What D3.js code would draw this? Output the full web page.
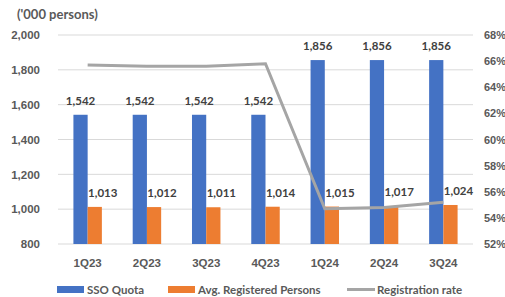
<!DOCTYPE html>
<html>
<head>
<meta charset="utf-8">
<script src="https://cdn.jsdelivr.net/npm/d3@7"></script>
<style>
  body { margin: 0; background: #fff; }
  svg { display: block; font-family: Lato, "Open Sans", sans-serif; font-weight: bold; }
</style>
</head>
<body>
<svg id="chart"></svg>
<script>
const quarters = ["1Q23", "2Q23", "3Q23", "4Q23", "1Q24", "2Q24", "3Q24"];
const ssoQuota = [1542, 1542, 1542, 1542, 1856, 1856, 1856];
const avgRegistered = [1013, 1012, 1011, 1014, 1015, 1017, 1024];
const regRate = [65.7, 65.6, 65.6, 65.8, 54.7, 54.8, 55.2];
const leftTicks = [800, 1000, 1200, 1400, 1600, 1800, 2000];
const rightTicks = [52, 54, 56, 58, 60, 62, 64, 66, 68];

const width = 505, height = 297;
const margin = { top: 35, right: 32, bottom: 53, left: 58 };
const colors = { quota: "#4472C4", reg: "#ED7D31", rate: "#A5A5A5" };

const svg = d3.select("#chart").attr("width", width).attr("height", height);

const x0 = d3.scaleBand()
  .domain(quarters)
  .range([margin.left, width - margin.right])
  .paddingInner(0.52)
  .paddingOuter(0.26);

const x1 = d3.scaleBand()
  .domain(["quota", "reg"])
  .range([0, x0.bandwidth()]);

const yL = d3.scaleLinear().domain([800, 2000]).range([height - margin.bottom, margin.top]);
const yR = d3.scaleLinear().domain([52, 68]).range([height - margin.bottom, margin.top]);

// gridlines
svg.append("g")
  .selectAll("line")
  .data(leftTicks)
  .join("line")
  .attr("x1", margin.left)
  .attr("x2", width - margin.right)
  .attr("y1", (d) => yL(d))
  .attr("y2", (d) => yL(d))
  .attr("stroke", "#d9d9d9")
  .attr("stroke-width", 1);

// left axis
const axL = svg.append("g")
  .attr("transform", `translate(${margin.left - 15},0)`)
  .call(d3.axisLeft(yL).tickValues(leftTicks).tickFormat(d3.format(",")).tickSize(0));
axL.select(".domain").remove();
axL.selectAll("text").attr("fill", "#595959").attr("font-size", "11.5px").attr("font-family", null);

// right axis
const axR = svg.append("g")
  .attr("transform", `translate(${width - margin.right + 8},0)`)
  .call(d3.axisRight(yR).tickValues(rightTicks).tickFormat((d) => d + "%").tickSize(0));
axR.select(".domain").remove();
axR.selectAll("text").attr("fill", "#595959").attr("font-size", "11px").attr("font-family", null);

// x axis labels
const axX = svg.append("g")
  .attr("transform", `translate(0,${height - margin.bottom + 12})`)
  .call(d3.axisBottom(x0).tickSize(0));
axX.select(".domain").remove();
axX.selectAll("text").attr("fill", "#595959").attr("font-size", "11.5px").attr("font-family", null);

// bars
const rows = quarters.map((q, i) => ({ q, quota: ssoQuota[i], reg: avgRegistered[i], rate: regRate[i] }));

const groups = svg.append("g")
  .selectAll("g")
  .data(rows)
  .join("g")
  .attr("transform", (d) => `translate(${x0(d.q)},0)`);

groups.append("rect")
  .attr("x", x1("quota"))
  .attr("width", x1.bandwidth())
  .attr("y", (d) => yL(d.quota))
  .attr("height", (d) => yL(800) - yL(d.quota))
  .attr("fill", colors.quota);

groups.append("rect")
  .attr("x", x1("reg"))
  .attr("width", x1.bandwidth())
  .attr("y", (d) => yL(d.reg))
  .attr("height", (d) => yL(800) - yL(d.reg))
  .attr("fill", colors.reg);

// rate line
const line = d3.line()
  .x((d) => x0(d.q) + x0.bandwidth() / 2)
  .y((d) => yR(d.rate));

svg.append("path")
  .datum(rows)
  .attr("d", line)
  .attr("fill", "none")
  .attr("stroke", colors.rate)
  .attr("stroke-width", 3);

// data labels
const fmt = d3.format(",");
groups.append("text")
  .attr("x", x1("quota") + x1.bandwidth() / 2)
  .attr("y", (d) => yL(d.quota) - 10)
  .attr("text-anchor", "middle")
  .attr("font-size", "11.5px")
  .attr("fill", "#404040")
  .text((d) => fmt(d.quota));

groups.append("text")
  .attr("x", x1("reg") + x1.bandwidth() / 2 + 8)
  .attr("y", (d) => yL(d.reg) - 10)
  .attr("text-anchor", "middle")
  .attr("font-size", "11.5px")
  .attr("fill", "#404040")
  .text((d) => fmt(d.reg));

// title
svg.append("text")
  .attr("x", 17)
  .attr("y", 19)
  .attr("font-size", "13px")
  .attr("fill", "#595959")
  .text("('000 persons)");

// legend
const legend = svg.append("g").attr("transform", `translate(0,${height - 7})`);
const items = [
  { label: "SSO Quota", color: colors.quota, x: 57, type: "rect" },
  { label: "Avg. Registered Persons", color: colors.reg, x: 168, type: "rect" },
  { label: "Registration rate", color: colors.rate, x: 347, type: "line" }
];
items.forEach((it) => {
  if (it.type === "rect") {
    legend.append("rect").attr("x", it.x).attr("y", -4).attr("width", 27).attr("height", 7).attr("fill", it.color);
  } else {
    legend.append("line").attr("x1", it.x).attr("x2", it.x + 28).attr("y1", -0.5).attr("y2", -0.5)
      .attr("stroke", it.color).attr("stroke-width", 3);
  }
  legend.append("text")
    .attr("x", it.x + 30)
    .attr("y", 4)
    .attr("font-size", "11.5px")
    .attr("fill", "#595959")
    .text(it.label);
});
</script>
</body>
</html>
